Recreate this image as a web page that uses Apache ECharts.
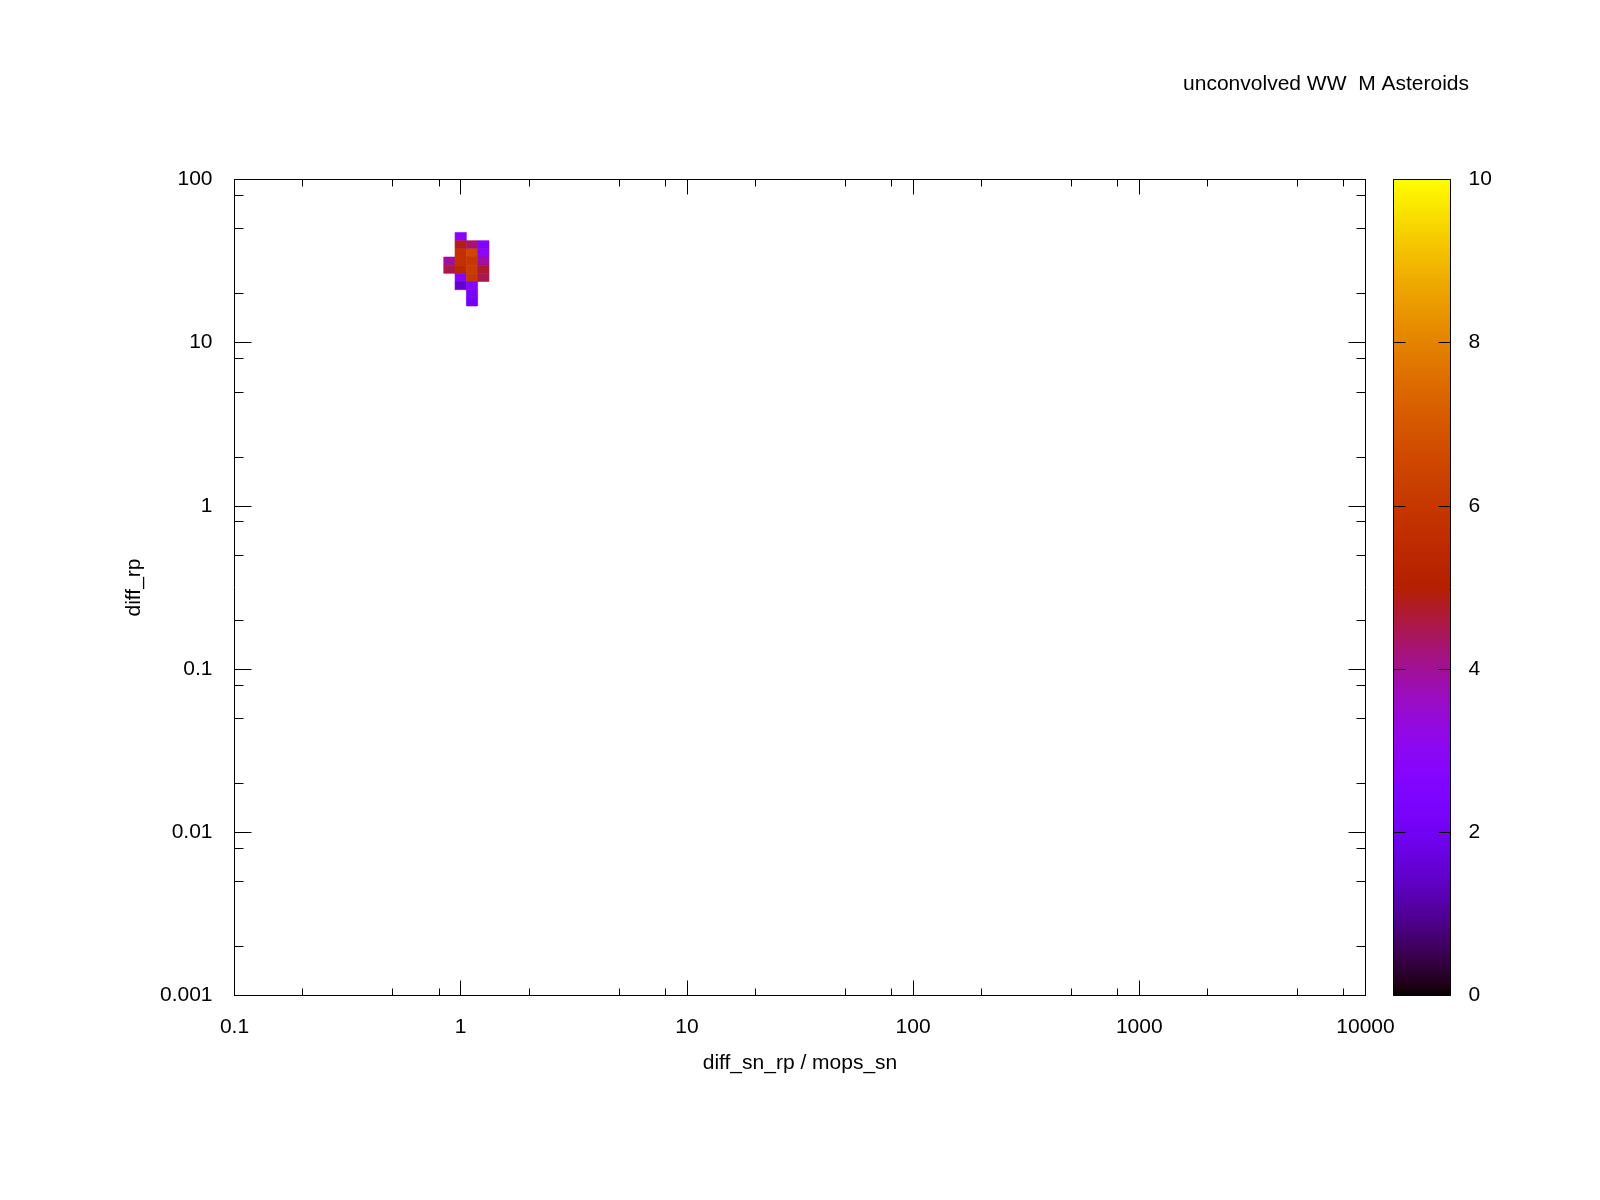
<!DOCTYPE html>
<html>
<head>
<meta charset="utf-8">
<script src="https://cdn.jsdelivr.net/npm/echarts@6/dist/echarts.min.js"></script>
<style>
  html, body { margin: 0; padding: 0; background: #fff; }
  #chart { width: 1600px; height: 1200px; }
</style>
</head>
<body>
<div id="chart"></div>
<script>
// log10 bin centres of the histogram cells (bin width 0.05 decades)
const cellLogX = [0, 0, 0.05, 0.1, 0, 0.05, 0.1, -0.05, 0, 0.05, 0.1, -0.05, 0, 0.05, 0.1, 0, 0.05, 0.1, 0, 0.05, 0.05, 0.05];
const cellLogY = [1.65, 1.6, 1.6, 1.6, 1.55, 1.55, 1.55, 1.5, 1.5, 1.5, 1.5, 1.45, 1.45, 1.45, 1.45, 1.4, 1.4, 1.4, 1.35, 1.35, 1.3, 1.25];
const cellValue = [2.8, 4.8, 4.3, 2.6, 5.7, 6.5, 3.0, 3.9, 5.8, 6.0, 3.9, 4.5, 5.4, 6.1, 4.7, 2.7, 6.0, 4.5, 1.5, 2.7, 2.3, 2.0];
const binHalf = 0.025;

const xMajorTicks = [0.1, 1, 10, 100, 1000, 10000];
const xTickLabels = ['0.1', '1', '10', '100', '1000', '10000'];
const xMinorTicks = [0.2, 0.5, 0.8, 2, 5, 8, 20, 50, 80, 200, 500, 800, 2000, 5000, 8000];
const yMajorTicks = [0.001, 0.01, 0.1, 1, 10, 100];
const yTickLabels = ['0.001', '0.01', '0.1', '1', '10', '100'];
const yMinorTicks = [0.002, 0.005, 0.008, 0.02, 0.05, 0.08, 0.2, 0.5, 0.8, 2, 5, 8, 20, 50, 80];
const cbMin = 0, cbMax = 10, cbStep = 2;

const FONT = 'Liberation Sans';
const FS = 21;

// gnuplot default palette (rgbformulae 7,5,15)
function gp(t) {
  const r = Math.sqrt(t), g = t * t * t, b = Math.max(0, Math.sin(2 * Math.PI * t));
  const h = v => Math.round(Math.min(1, Math.max(0, v)) * 255);
  return 'rgb(' + h(r) + ',' + h(g) + ',' + h(b) + ')';
}
const paletteColors = [];
const gradStops = [];
for (let i = 0; i <= 100; i++) {
  paletteColors.push(gp(i / 100));
  gradStops.push({ offset: i / 100, color: gp(i / 100) });
}

const cells = cellValue.map((v, i) => [Math.pow(10, cellLogX[i]), Math.pow(10, cellLogY[i]), v, cellLogX[i], cellLogY[i]]);

function lookup(vals, labels) {
  return v => {
    for (let i = 0; i < vals.length; i++) {
      if (Math.abs(Math.log10(v) - Math.log10(vals[i])) < 1e-6) return labels[i];
    }
    return '';
  };
}

function xAx(pos, minor, withLabels) {
  return {
    type: 'log', logBase: 10, gridIndex: 0, position: pos,
    min: 0.1, max: 10000,
    axisLine: { show: !minor, onZero: false, lineStyle: { color: '#000', width: 1 } },
    axisTick: { show: true, inside: true, length: minor ? 7 : 15, customValues: minor ? xMinorTicks : xMajorTicks,
      lineStyle: { color: '#000', width: 1 } },
    axisLabel: { show: withLabels, customValues: xMajorTicks, formatter: lookup(xMajorTicks, xTickLabels),
      color: '#000', fontSize: FS, fontFamily: FONT, margin: 21 },
    splitLine: { show: false },
    minorTick: { show: false },
    name: withLabels ? 'diff_sn_rp / mops_sn' : '',
    nameLocation: 'middle', nameGap: 57,
    nameTextStyle: { color: '#000', fontSize: FS, fontFamily: FONT }
  };
}
function yAx(pos, minor, withLabels) {
  return {
    type: 'log', logBase: 10, gridIndex: 0, position: pos,
    min: 0.001, max: 100,
    axisLine: { show: !minor, onZero: false, lineStyle: { color: '#000', width: 1 } },
    axisTick: { show: true, inside: true, length: minor ? 9 : 17, customValues: minor ? yMinorTicks : yMajorTicks,
      lineStyle: { color: '#000', width: 1 } },
    axisLabel: { show: withLabels, customValues: yMajorTicks, formatter: lookup(yMajorTicks, yTickLabels),
      color: '#000', fontSize: FS, fontFamily: FONT, margin: 22 },
    splitLine: { show: false },
    minorTick: { show: false },
    name: withLabels ? 'diff_rp' : '',
    nameLocation: 'middle', nameGap: 90,
    nameTextStyle: { color: '#000', fontSize: FS, fontFamily: FONT }
  };
}
function cbAx(pos, withLabels) {
  return {
    type: 'value', gridIndex: 1, position: pos, z: 10,
    min: cbMin, max: cbMax, interval: cbStep,
    axisLine: { show: false, onZero: false },
    axisTick: { show: true, inside: true, length: 12, lineStyle: { color: '#000', width: 1 } },
    axisLabel: { show: withLabels, color: '#000', fontSize: FS, fontFamily: FONT, margin: 18 },
    splitLine: { show: false }
  };
}

const chart = echarts.init(document.getElementById('chart'), null, { renderer: 'canvas' });
chart.setOption({
  backgroundColor: '#fff',
  animation: false,
  title: {
    text: 'unconvolved WW  M Asteroids',
    right: 131, top: 74, padding: 0,
    textStyle: { color: '#000', fontSize: FS, fontWeight: 'normal', fontFamily: FONT }
  },
  grid: [
    { left: 234.5, top: 179.5, width: 1131, height: 816 },
    { left: 1393.5, top: 179.5, width: 57, height: 816 }
  ],
  xAxis: [
    xAx('bottom', false, true),
    xAx('bottom', true, false),
    xAx('top', false, false),
    xAx('top', true, false),
    { type: 'value', gridIndex: 1, min: 0, max: 1, show: false, axisLine: { onZero: false } }
  ],
  yAxis: [
    yAx('left', false, true),
    yAx('left', true, false),
    yAx('right', false, false),
    yAx('right', true, false),
    cbAx('right', true),
    cbAx('left', false)
  ],
  visualMap: {
    show: false, type: 'continuous', seriesIndex: 0, dimension: 2,
    min: cbMin, max: cbMax, inRange: { color: paletteColors }
  },
  series: [
    {
      type: 'custom', xAxisIndex: 0, yAxisIndex: 0,
      data: cells,
      encode: { x: 0, y: 1 },
      renderItem: (params, api) => {
        const lx = api.value(3), ly = api.value(4);
        const p0 = api.coord([Math.pow(10, lx - binHalf), Math.pow(10, ly + binHalf)]);
        const p1 = api.coord([Math.pow(10, lx + binHalf), Math.pow(10, ly - binHalf)]);
        const c = api.visual('color');
        return {
          type: 'rect',
          shape: { x: p0[0], y: p0[1], width: p1[0] - p0[0], height: p1[1] - p0[1] },
          style: { fill: c, stroke: c, lineWidth: 0.6 }
        };
      }
    },
    {
      type: 'custom', xAxisIndex: 4, yAxisIndex: 4,
      data: [[0, cbMin, 1, cbMax]],
      renderItem: (params, api) => {
        const p0 = api.coord([api.value(0), api.value(3)]);
        const p1 = api.coord([api.value(2), api.value(1)]);
        return {
          type: 'rect',
          shape: { x: p0[0], y: p0[1], width: p1[0] - p0[0], height: p1[1] - p0[1] },
          style: {
            fill: new echarts.graphic.LinearGradient(0, 1, 0, 0, gradStops),
            stroke: '#000', lineWidth: 1
          }
        };
      }
    }
  ]
});
</script>
</body>
</html>
